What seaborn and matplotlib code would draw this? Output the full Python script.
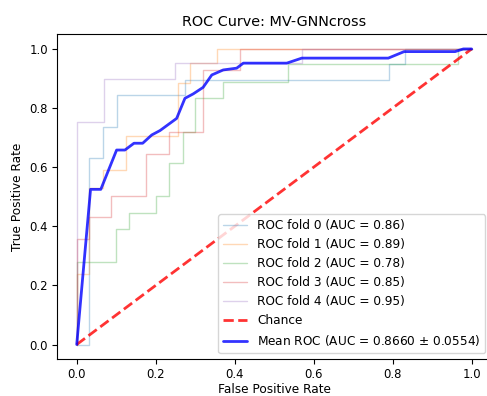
import matplotlib
matplotlib.use("Agg")
import matplotlib.pyplot as plt
import seaborn as sns
import pandas as pd

# Per-fold ROC curves (step points: false positive rate, true positive rate)
fold0_fpr = [0.0, 0.03, 0.03, 0.067, 0.067, 0.101, 0.101, 0.274, 0.274, 0.79, 0.79, 0.83, 0.83, 1.0]
fold0_tpr = [0.0, 0.0, 0.63, 0.63, 0.735, 0.735, 0.844, 0.844, 0.895, 0.895, 0.95, 0.95, 1.0, 1.0]

fold1_fpr = [0.0, 0.0, 0.032, 0.032, 0.066, 0.066, 0.126, 0.126, 0.257, 0.257, 0.287, 0.287, 0.354, 0.354, 1.0]
fold1_tpr = [0.0, 0.24, 0.24, 0.53, 0.53, 0.59, 0.59, 0.705, 0.705, 0.884, 0.884, 0.952, 0.952, 1.0, 1.0]

fold2_fpr = [0.0, 0.0, 0.099, 0.099, 0.133, 0.133, 0.201, 0.201, 0.234, 0.234, 0.268, 0.268,
             0.30, 0.30, 0.37, 0.37, 0.534, 0.534, 0.966, 0.966, 1.0]
fold2_tpr = [0.0, 0.28, 0.28, 0.39, 0.39, 0.444, 0.444, 0.504, 0.504, 0.613, 0.613, 0.72,
             0.72, 0.833, 0.833, 0.889, 0.889, 0.95, 0.95, 1.0, 1.0]

fold3_fpr = [0.0, 0.0, 0.032, 0.032, 0.086, 0.086, 0.175, 0.175, 0.234, 0.234, 0.32, 0.32, 0.414, 0.414, 1.0]
fold3_tpr = [0.0, 0.356, 0.356, 0.432, 0.432, 0.504, 0.504, 0.645, 0.645, 0.72, 0.72, 0.93, 0.93, 1.0, 1.0]

fold4_fpr = [0.0, 0.0, 0.07, 0.07, 0.249, 0.249, 0.57, 0.57, 1.0]
fold4_tpr = [0.0, 0.752, 0.752, 0.90, 0.90, 0.952, 0.952, 1.0, 1.0]

fold_aucs = [0.86, 0.89, 0.78, 0.85, 0.95]

# Mean ROC curve across folds
mean_fpr = [0.0, 0.02, 0.035, 0.061, 0.101, 0.122, 0.145, 0.167, 0.19, 0.211, 0.253, 0.274,
            0.295, 0.32, 0.342, 0.371, 0.405, 0.422, 0.532, 0.57, 0.789, 0.829, 0.958, 0.979, 1.0]
mean_tpr = [0.0, 0.30, 0.525, 0.525, 0.658, 0.658, 0.681, 0.681, 0.709, 0.724, 0.765, 0.833,
            0.848, 0.870, 0.912, 0.929, 0.935, 0.952, 0.952, 0.969, 0.969, 0.991, 0.991, 1.0, 1.0]
mean_auc = 0.8660
std_auc = 0.0554

chance_x = [0.0, 1.0]
chance_y = [0.0, 1.0]

folds = [
    (fold0_fpr, fold0_tpr),
    (fold1_fpr, fold1_tpr),
    (fold2_fpr, fold2_tpr),
    (fold3_fpr, fold3_tpr),
    (fold4_fpr, fold4_tpr),
]

sns.set_style("ticks", {"axes.edgecolor": "black", "xtick.color": "black",
                        "ytick.color": "black", "text.color": "black",
                        "axes.labelcolor": "black"})
plt.rcParams["font.family"] = ["DejaVu Sans"]
plt.rcParams["font.size"] = 8.7

fig = plt.figure(figsize=(4.87, 3.96), dpi=100)
ax = fig.add_axes([0.117, 0.0927, 0.892, 0.821])

palette = sns.color_palette("tab10")
for i, ((fpr, tpr), auc) in enumerate(zip(folds, fold_aucs)):
    df = pd.DataFrame({"fpr": fpr, "tpr": tpr})
    sns.lineplot(data=df, x="fpr", y="tpr", ax=ax, sort=False, estimator=None,
                 color=palette[i], lw=1, alpha=0.3,
                 label=f"ROC fold {i} (AUC = {auc:.2f})")

sns.lineplot(x=chance_x, y=chance_y, ax=ax, sort=False, estimator=None,
             color="r", lw=2, alpha=0.8, linestyle="--", label="Chance")

sns.lineplot(x=mean_fpr, y=mean_tpr, ax=ax, sort=False, estimator=None,
             color="b", lw=2, alpha=0.8,
             label=f"Mean ROC (AUC = {mean_auc:.4f} $\\pm$ {std_auc:.4f})")

ax.set_xlim(-0.05, 1.05)
ax.set_ylim(-0.05, 1.05)
ax.set_xticks([0.0, 0.2, 0.4, 0.6, 0.8, 1.0])
ax.set_yticks([0.0, 0.2, 0.4, 0.6, 0.8, 1.0])
ax.tick_params(labelsize=8.4, direction="out", length=3.5, width=0.8, pad=3)
for s in ax.spines.values():
    s.set_linewidth(0.8)
ax.set_xlabel("False Positive Rate", fontsize=8.7, labelpad=1.5)
ax.set_ylabel("True Positive Rate", fontsize=8.7, labelpad=4)
ax.set_title("ROC Curve: MV-GNNcross", fontsize=10.4)
ax.legend(loc="lower right", fontsize=8.7)

fig.savefig("out.png", dpi=100)
